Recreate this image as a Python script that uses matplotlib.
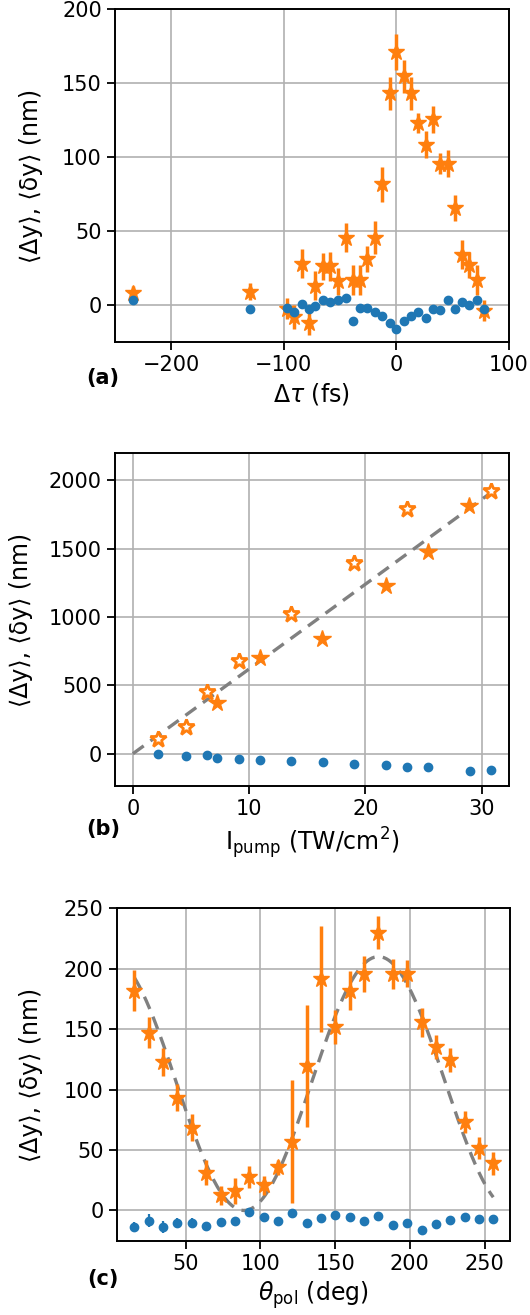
import numpy as np
import matplotlib
matplotlib.use("Agg")
import matplotlib.pyplot as plt
from matplotlib.ticker import MultipleLocator

plt.rcParams['font.family'] = ['DejaVu Sans']

ORANGE = '#ff7f0e'
BLUE = '#1f77b4'

# ---------- Panel (a): delay scan ----------
tau = [-234, -130, -97, -91, -84, -78, -72, -65, -59, -52, -45, -38.5, -32, -26,
       -19, -13, -6, 0, 6.5, 13, 19.5, 26, 32.5, 39, 46, 52, 58.5, 65, 71.5, 78]
a_big = [8, 9, -2.5, -8, 28, -12, 13, 26, 26, 16, 45.5, 16.7, 16.7, 31,
         45.5, 81.5, 143, 171, 154.5, 143, 123, 108.5, 125.5, 95.5, 95.5, 65.5, 34, 27, 16.7, -4]
a_big_err = [5, 6, 7, 8, 10, 8, 10, 9, 10, 9, 10, 10, 10, 9,
             11, 12, 11, 12, 11, 11, 7, 9, 9, 7, 9, 9, 10, 9, 10, 7]
a_small = [3, -3, -2, -5, 0.7, -3, -0.7, 3, 2, 3, 4.7, -10.8, -2, -2,
           -5, -7.4, -12, -16.4, -10.8, -7.4, -5, -9, -3, -3.6, 3, -3, 2, 0, 3.4, -3]
a_small_err = [2] * len(tau)

# ---------- Panel (b): intensity scan ----------
I_open = [2.2, 4.57, 6.34, 9.09, 13.57, 19.03, 23.54, 30.8]
b_open = [105, 197, 451, 676, 1022, 1393, 1788, 1924]
I_fill = [7.26, 10.91, 16.29, 21.74, 25.37, 28.94]
b_fill = [373, 700, 841, 1229, 1473, 1815]
I_all = [2.2, 4.57, 6.34, 7.26, 9.09, 10.91, 13.57, 16.34, 19.03, 21.74, 23.54, 25.37, 28.97, 30.8]
b_small = [0, -20, -10, -34, -41, -44, -51, -59, -76, -83, -95, -95, -127, -122]
b_fit_slope = 62.0
b_fit_range = [0, 30.8]

# ---------- Panel (c): polarization scan ----------
theta = [15.7, 25.5, 35.1, 44.4, 54.2, 63.8, 73.4, 83, 92.6, 102.2, 111.8, 121.3, 131,
         140.5, 150.1, 159.7, 169.3, 178.9, 188.5, 198.3, 207.9, 217.4, 227, 236.6, 246.2, 255.8]
c_big = [181.8, 147, 123, 93.4, 68.6, 31.4, 12.4, 16.3, 27.5, 20.7, 35.8, 57, 119.6,
         191.5, 151.5, 181.8, 195.6, 229.8, 196, 196, 155.6, 135.5, 124.5, 73, 52, 39]
c_big_err = [16.8, 12.7, 11.7, 11.3, 11, 10.7, 8, 10.7, 9, 7.6, 6.2, 51, 50.5,
             44, 14, 16, 15, 13.4, 12.4, 11.3, 11.7, 10, 10.3, 9, 9.2, 9.4]
c_small = [-13.8, -8.3, -13.8, -10.5, -10.5, -13.2, -9.6, -9.1, -1.4, -5.5, -9.1, -2.2, -10.5,
           -6.3, -3.6, -5.5, -8.5, -4.4, -12.4, -10.5, -16.5, -11, -7.7, -5.8, -7.4, -7.2]
c_small_err = [4, 5, 5, 4, 4, 4, 3, 3, 3, 2, 2, 2, 2, 2, 2, 2, 2, 2, 2, 2, 2, 2, 2, 2, 2, 2]
c_fit_amp = 210.0
c_fit_center = 179.0
c_fit_range = [15.7, 255.8]

fig = plt.figure(figsize=(5.3, 13.15), dpi=100)
axa = fig.add_axes([0.217, 0.740, 0.743, 0.253])
axb = fig.add_axes([0.217, 0.4023, 0.743, 0.2532])
axc = fig.add_axes([0.220, 0.0565, 0.742, 0.2528])

ylabel = '⟨Δy⟩, ⟨δy⟩ (nm)'
FS_T = 15
FS_L = 17

for ax, lx in ((axa, -0.183), (axb, -0.208), (axc, -0.188)):
    ax.grid(True, color='#b0b0b0', linewidth=1.2)
    ax.set_axisbelow(True)
    ax.tick_params(labelsize=FS_T, width=1.3, length=6)
    for s in ax.spines.values():
        s.set_linewidth(1.4)
    ax.set_ylabel(ylabel, fontsize=FS_L)
    ax.yaxis.set_label_coords(lx, 0.5)

# (a)
axa.errorbar(tau, a_big, yerr=a_big_err, fmt='*', color=ORANGE, ms=12, elinewidth=2.5,
             capsize=0, zorder=3)
axa.errorbar(tau, a_small, yerr=a_small_err, fmt='o', color=BLUE, ms=6, elinewidth=1.6,
             capsize=0, zorder=4)
axa.set_xlim(-250, 100)
axa.set_ylim(-25, 200)
axa.xaxis.set_major_locator(MultipleLocator(100))
axa.yaxis.set_major_locator(MultipleLocator(50))
axa.set_xlabel(r'$\Delta\tau$ (fs)', fontsize=FS_L)

# (b)
xf = np.array(b_fit_range)
axb.plot(xf, b_fit_slope * xf, '--', color='gray', lw=2.4, dashes=(4, 2.5), zorder=2)
axb.plot(I_open, b_open, '*', ms=12, mfc='white', mec=ORANGE, mew=2.0, zorder=3)
axb.plot(I_fill, b_fill, '*', ms=13, color=ORANGE, zorder=3)
axb.plot(I_all, b_small, 'o', ms=6, color=BLUE, zorder=4)
axb.set_xlim(-1.54, 32.34)
axb.set_ylim(-236, 2200)
axb.xaxis.set_major_locator(MultipleLocator(10))
axb.yaxis.set_major_locator(MultipleLocator(500))
axb.set_xlabel(r'I$_{\rm pump}$ (TW/cm$^2$)', fontsize=FS_L)

# (c)
tf = np.linspace(c_fit_range[0], c_fit_range[1], 300)
axc.plot(tf, c_fit_amp * np.cos(np.deg2rad(tf - c_fit_center)) ** 2, '--', color='gray',
         lw=2.4, dashes=(4, 2.5), zorder=2)
axc.errorbar(theta, c_big, yerr=c_big_err, fmt='*', color=ORANGE, ms=12, elinewidth=2.5,
             capsize=0, zorder=3)
axc.errorbar(theta, c_small, yerr=c_small_err, fmt='o', color=BLUE, ms=6, elinewidth=1.6,
             capsize=0, zorder=4)
axc.set_xlim(3.8, 266.9)
axc.set_ylim(-25, 250)
axc.xaxis.set_major_locator(MultipleLocator(50))
axc.yaxis.set_major_locator(MultipleLocator(50))
axc.set_xlabel(r'$\theta_{\rm pol}$ (deg)', fontsize=FS_L)

for lab, yy in (('(a)', 378), ('(b)', 829), ('(c)', 1279)):
    fig.text(103 / 530, 1 - yy / 1315, lab, fontsize=FS_T, fontweight='bold',
             ha='center', va='center')

fig.savefig('out.png', dpi=100)
